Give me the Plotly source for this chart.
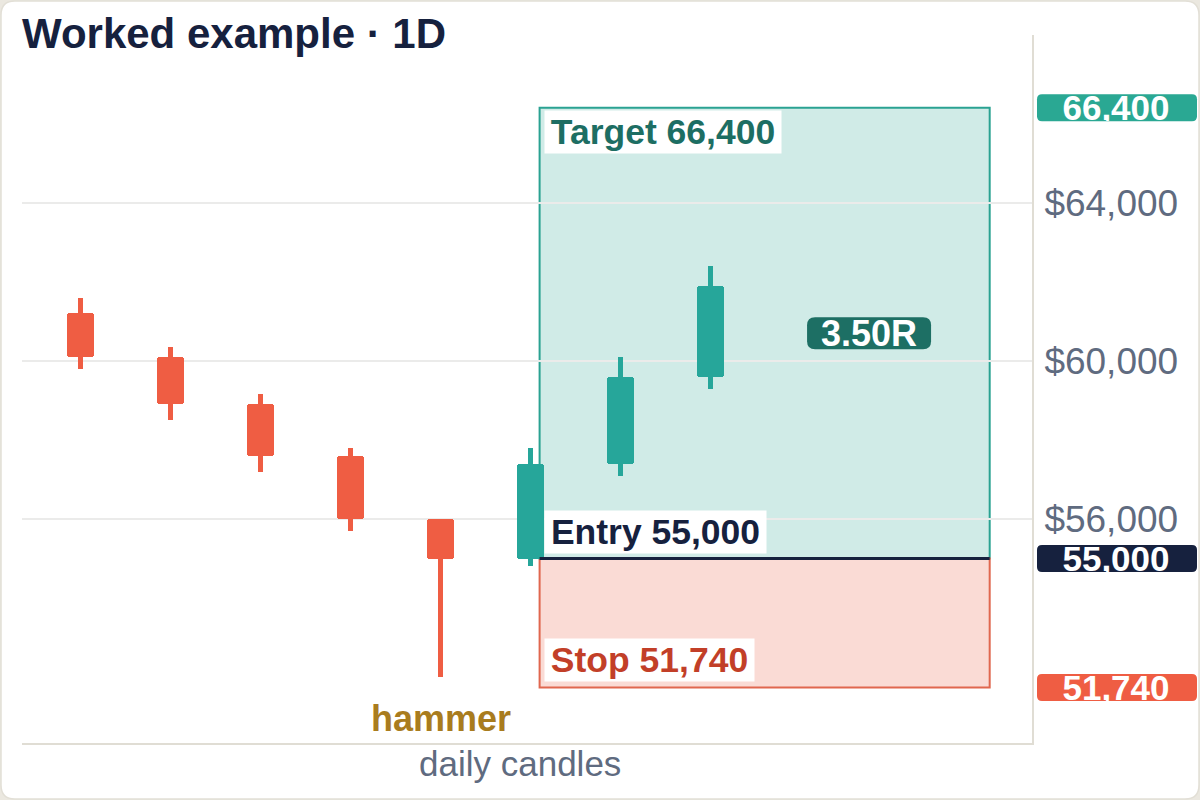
import plotly.graph_objects as go

# daily candles
days = [0, 1, 2, 3, 4, 5, 6, 7]
opens = [61200, 60100, 58900, 57600, 56000, 55000, 57400, 59600]
closes = [60100, 58900, 57600, 56000, 55000, 57400, 59600, 61900]
highs = [61600, 60350, 59150, 57800, 56000, 57800, 60100, 62400]
lows = [59800, 58500, 57200, 55700, 52000, 54800, 57100, 59300]

# trade plan
entry = 55000
target = 66400
stop = 51740
hammer_day = 4
zone_start, zone_end = 5.1, 10.1
r_label_x = 8.76

price_ticks = [56000, 60000, 64000]
price_tick_text = ["$56,000", "$60,000", "$64,000"]

# colours
UP = "#26a69a"
DOWN = "#ef5d43"
NAVY = "#16213e"
GREY = "#5f6b80"
FONT = "Liberation Sans, Arial, sans-serif"

# canvas / plot geometry
W, H = 1200, 800
M = dict(l=22, r=168, t=35, b=57)
plot_w = W - M["l"] - M["r"]
plot_h = H - M["t"] - M["b"]
x_range = [-0.65, 10.57]
y_range = [50335, 68240]


def paper_x(px):
    return (px - M["l"]) / plot_w


def paper_y(py):
    return (H - M["b"] - py) / plot_h


def price_py(p):
    return M["t"] + (y_range[1] - p) / (y_range[1] - y_range[0]) * plot_h


def day_px(d):
    return M["l"] + (d - x_range[0]) / (x_range[1] - x_range[0]) * plot_w


def rounded(x0, x1, y0, y1, rx, ry):
    return (f"M{x0 + rx},{y0} L{x1 - rx},{y0} Q{x1},{y0} {x1},{y0 + ry} "
            f"L{x1},{y1 - ry} Q{x1},{y1} {x1 - rx},{y1} L{x0 + rx},{y1} "
            f"Q{x0},{y1} {x0},{y1 - ry} L{x0},{y0 + ry} Q{x0},{y0} {x0 + rx},{y0} Z")


def pill(px0, px1, py0, py1, radius):
    # rounded box given in pixels, returned as a paper-referenced path
    return rounded(paper_x(px0), paper_x(px1), paper_y(py1), paper_y(py0),
                   radius / plot_w, radius / plot_h)


colors = [UP if c >= o else DOWN for o, c in zip(opens, closes)]
body_base = [min(o, c) for o, c in zip(opens, closes)]
body_len = [abs(c - o) for o, c in zip(opens, closes)]
wick_len = [h - l for h, l in zip(highs, lows)]

fig = go.Figure()
fig.add_trace(go.Bar(x=days, y=wick_len, base=lows, width=0.06,
                     marker=dict(color=colors, line_width=0), hoverinfo="skip"))
fig.add_trace(go.Bar(x=days, y=body_len, base=body_base, width=0.3,
                     marker=dict(color=colors, line_width=0, cornerradius=3),
                     hoverinfo="skip"))

shapes = [
    # card
    dict(type="path", xref="paper", yref="paper", layer="below",
         path=pill(1, 1199, 1, 799, 14), fillcolor="white",
         line=dict(color="#e2dfd6", width=1.5)),
    # reward / risk zones
    dict(type="rect", xref="x", yref="y", layer="below",
         x0=zone_start, x1=zone_end, y0=entry, y1=target,
         fillcolor="#d0ebe7", line=dict(color="#2aa292", width=2)),
    dict(type="rect", xref="x", yref="y", layer="below",
         x0=zone_start, x1=zone_end, y0=stop, y1=entry,
         fillcolor="#fadbd5", line=dict(color="#e0674f", width=2)),
    dict(type="line", xref="x", yref="y", x0=zone_start, x1=zone_end,
         y0=entry, y1=entry, line=dict(color=NAVY, width=3)),
]

annotations = []

# price badges on the right
for price, col in [(target, "#2aa893"), (entry, NAVY), (stop, DOWN)]:
    py = price_py(price)
    shapes.append(dict(type="path", xref="paper", yref="paper",
                       path=pill(1037, 1197, py - 13.5, py + 13.5, 5),
                       fillcolor=col, line_width=0))
    annotations.append(dict(xref="paper", yref="y", x=paper_x(1116), y=price,
                            xanchor="center", yanchor="middle",
                            text=f"<b>{price:,}</b>", showarrow=False,
                            width=160, height=27, borderpad=0,
                            font=dict(size=35, color="white", family=FONT)))

# zone labels
label_specs = [
    (f"<b>Target {target:,}</b>", target, "top", -2, 236, "#1d6e63"),
    (f"<b>Entry {entry:,}</b>", entry, "bottom", 5, 221, NAVY),
    (f"<b>Stop {stop:,}</b>", stop, "bottom", 5, 209, "#c23f28"),
]
for text, price, anchor, shift, w, col in label_specs:
    annotations.append(dict(xref="x", yref="y", x=zone_start, y=price,
                            xanchor="left", yanchor=anchor, xshift=4, yshift=shift,
                            text=text, showarrow=False, bgcolor="white",
                            width=w, height=42, borderpad=0,
                            font=dict(size=35.5, color=col, family=FONT)))

# R multiple badge
r_mult = (target - entry) / (entry - stop)
r_y = (target + entry) / 2
cx, cy = day_px(r_label_x), price_py(r_y)
shapes.append(dict(type="path", xref="paper", yref="paper",
                   path=pill(cx - 62, cx + 62, cy - 16, cy + 16, 8),
                   fillcolor="#1d6f64", line_width=0))
annotations.append(dict(xref="x", yref="y", x=r_label_x, y=r_y,
                        text=f"<b>{r_mult:.2f}R</b>", showarrow=False,
                        font=dict(size=36, color="white", family=FONT)))

# pattern note
annotations.append(dict(xref="x", yref="y", x=hammer_day, y=lows[hammer_day],
                        yanchor="top", yshift=-19, text="<b>hammer</b>",
                        showarrow=False,
                        font=dict(size=36, color="#a97c1e", family=FONT)))

# x axis caption
annotations.append(dict(xref="paper", yref="paper", x=paper_x(520), y=0,
                        yanchor="middle", yshift=-20, text="daily candles",
                        showarrow=False, font=dict(size=35, color=GREY, family=FONT)))

fig.update_layout(
    width=W, height=H, margin=M,
    paper_bgcolor="#ebe8e0", plot_bgcolor="rgba(0,0,0,0)",
    barmode="overlay", showlegend=False, bargap=0,
    font=dict(family=FONT),
    title=dict(text="<b>Worked example · 1D</b>", x=22 / W, xanchor="left",
               y=1 - 33 / H, yanchor="middle",
               font=dict(size=42, color=NAVY, family=FONT)),
    shapes=shapes, annotations=annotations,
)
fig.update_xaxes(range=x_range, showticklabels=False, showgrid=False,
                 zeroline=False, showline=True, linecolor="#e0ddd4", linewidth=2,
                 fixedrange=True)
fig.update_yaxes(range=y_range, side="right", tickvals=price_ticks,
                 ticktext=price_tick_text, ticks="", ticklabelstandoff=3,
                 tickfont=dict(size=37, color=GREY, family=FONT),
                 showgrid=True, gridcolor="#ebebea", gridwidth=1.5,
                 zeroline=False, showline=True, linecolor="#e0ddd4", linewidth=2,
                 fixedrange=True)

# drop the browser's default body margin so the figure sits flush
fig.write_html("out.html", config={"displayModeBar": False},
               post_script="document.body.style.margin='0';")
